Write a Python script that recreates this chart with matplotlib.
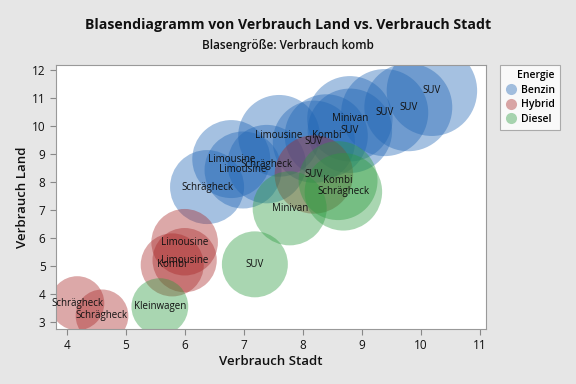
import matplotlib
matplotlib.use("Agg")
import matplotlib.pyplot as plt
from matplotlib.lines import Line2D

plt.rcParams['font.family'] = ['Open Sans', 'DejaVu Sans']

# Benzin
benzin_typ = ["Schrägheck", "Limousine", "Limousine", "Schrägheck", "Limousine", "Kombi",
              "SUV", "Minivan", "SUV", "SUV", "SUV", "SUV"]
benzin_stadt = [6.38, 6.79, 6.99, 7.39, 7.60, 8.40, 8.19, 8.80, 8.80, 9.39, 9.79, 10.19]
benzin_land = [7.82, 8.82, 8.43, 8.64, 9.65, 9.65, 9.44, 10.26, 9.83, 10.48, 10.67, 11.26]
benzin_komb = [7.3, 8.1, 7.9, 8.2, 8.9, 9.2, 9.0, 9.7, 9.5, 10.1, 10.3, 10.9]

# Hybrid
hybrid_typ = ["Limousine", "Limousine", "Kombi", "Schrägheck", "Schrägheck", "SUV"]
hybrid_stadt = [6.00, 6.00, 5.79, 4.18, 4.60, 8.19]
hybrid_land = [5.85, 5.21, 5.04, 3.67, 3.22, 8.27]
hybrid_komb = [5.9, 5.5, 5.3, 3.9, 3.7, 8.2]

# Diesel
diesel_typ = ["Kleinwagen", "SUV", "Minivan", "Kombi", "Schrägheck"]
diesel_stadt = [5.58, 7.19, 7.78, 8.60, 8.69]
diesel_land = [3.55, 5.06, 7.06, 8.05, 7.65]
diesel_komb = [4.3, 5.8, 7.3, 8.3, 8.0]

gruppen = [
    ("Benzin", "#1E64B4", benzin_typ, benzin_stadt, benzin_land, benzin_komb),
    ("Hybrid", "#A82626", hybrid_typ, hybrid_stadt, hybrid_land, hybrid_komb),
    ("Diesel", "#2A9A3E", diesel_typ, diesel_stadt, diesel_land, diesel_komb),
]

fig = plt.figure(figsize=(5.76, 3.84), dpi=100, facecolor="#E6E6E6")
ax = fig.add_axes([0.0972, 0.1432, 0.7466, 0.6868])
ax.set_facecolor("white")

# Blasenfläche proportional zu Verbrauch komb
for name, farbe, typ, x, y, komb in gruppen:
    ax.scatter(x, y, s=[389 * k for k in komb], color=farbe, alpha=0.4,
               linewidths=0, label=name)

for name, farbe, typ, x, y, komb in gruppen:
    for t, xi, yi in zip(typ, x, y):
        ax.text(xi, yi, t, fontsize=7, ha="center", va="center", color="#111111")

ax.set_xlim(3.82, 11.107)
ax.set_ylim(2.75, 12.17)
ax.set_xticks(range(4, 12))
ax.set_yticks(range(3, 13))
ax.tick_params(colors="#888888", labelcolor="#111111", labelsize=8.5, length=4)
for sp in ax.spines.values():
    sp.set_color("#999999")

ax.set_xlabel("Verbrauch Stadt", fontsize=9.5, fontweight="semibold", color="#111111",
              labelpad=2)
ax.set_ylabel("Verbrauch Land", fontsize=9.5, fontweight="semibold", color="#111111")
ax.yaxis.set_label_coords(-0.062, 0.5)

fig.text(0.5, 0.935, "Blasendiagramm von Verbrauch Land vs. Verbrauch Stadt",
         ha="center", va="center", fontsize=10.2, fontweight="bold", color="#111111")
fig.text(0.5, 0.882, "Blasengröße: Verbrauch komb", ha="center", va="center",
         fontsize=8.5, fontweight="semibold", color="#111111")

handles = [Line2D([], [], marker="o", linestyle="", markersize=8, markeredgewidth=0,
                  color=farbe, alpha=0.4) for _, farbe, *_ in gruppen]
leg = fig.legend(handles, [g[0] for g in gruppen], title="Energie",
                 loc="upper left", bbox_to_anchor=(0.859, 0.845), fontsize=7.5,
                 title_fontsize=7.5, frameon=True, fancybox=False,
                 edgecolor="#999999", handletextpad=0.3, borderpad=0.5,
                 labelspacing=0.35, handlelength=1.2, alignment="right",
                 prop={"weight": "semibold", "size": 7.5})
leg.get_title().set_fontweight("semibold")
leg.get_frame().set_linewidth(0.8)

fig.savefig("out.png", dpi=100, facecolor=fig.get_facecolor())
